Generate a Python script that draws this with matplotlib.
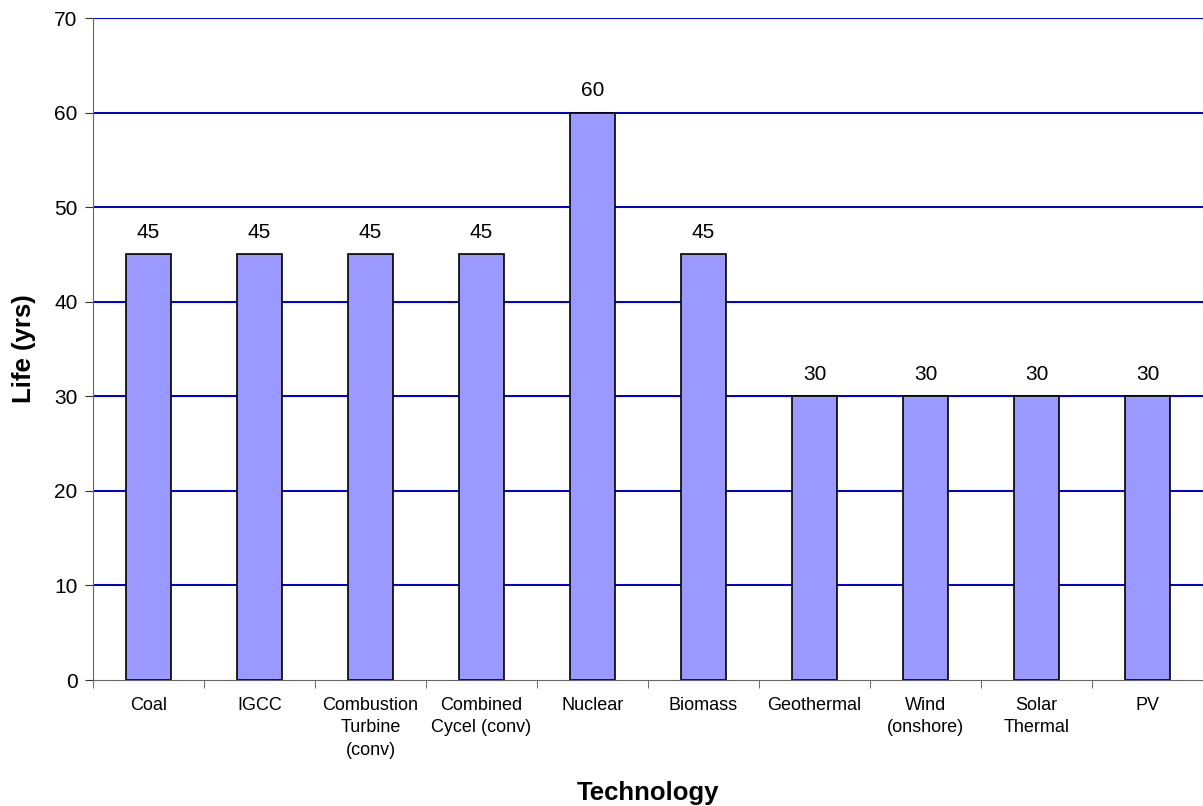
import matplotlib
matplotlib.use("Agg")
import matplotlib.pyplot as plt
import numpy as np

categories = ["Coal", "IGCC", "Combustion\nTurbine\n(conv)", "Combined\nCycel (conv)",
              "Nuclear", "Biomass", "Geothermal", "Wind\n(onshore)", "Solar\nThermal", "PV"]
life = [45, 45, 45, 45, 60, 45, 30, 30, 30, 30]
yticks = [0, 10, 20, 30, 40, 50, 60, 70]

plt.rcParams['font.family'] = ['Liberation Sans', 'DejaVu Sans']

fig = plt.figure(figsize=(12.03, 8.06), dpi=100)
ax = fig.add_axes([93/1203, 126/806, 1 - 93/1203, 662/806])

x = np.arange(len(categories))
ax.bar(x, life, width=0.405, color="#9999FF", edgecolor="black", linewidth=1.2, zorder=3)
for xi, v in zip(x, life):
    ax.text(xi, v + 1.3, str(v), ha="center", va="bottom", fontsize=15, zorder=4)

ax.set_xlim(-0.5, len(categories) - 0.5)
ax.set_ylim(0, 70)
ax.set_yticks(yticks)
ax.set_yticklabels([str(t) for t in yticks], fontsize=15)
for t in yticks[1:]:
    ax.axhline(t, color="#0000DD", linewidth=1.45, zorder=1)

ax.set_xticks(x)
ax.set_xticklabels(categories, fontsize=13, linespacing=1.42)
ax.set_xticks(np.arange(len(categories) + 1) - 0.5, minor=True)
ax.tick_params(axis="x", which="major", length=0, pad=12)
ax.tick_params(axis="x", which="minor", length=6, color="#555555", direction="out")
ax.tick_params(axis="y", length=6, color="#333333", direction="out", pad=5)

for s in ["top", "right"]:
    ax.spines[s].set_visible(False)
ax.spines["left"].set_color("#666666")
ax.spines["bottom"].set_color("#666666")

ax.set_ylabel("Life (yrs)", fontsize=18.5, fontweight="bold", labelpad=13)
ax.set_xlabel("Technology", fontsize=18.5, fontweight="bold", labelpad=16)

fig.savefig("out.png", dpi=100)
